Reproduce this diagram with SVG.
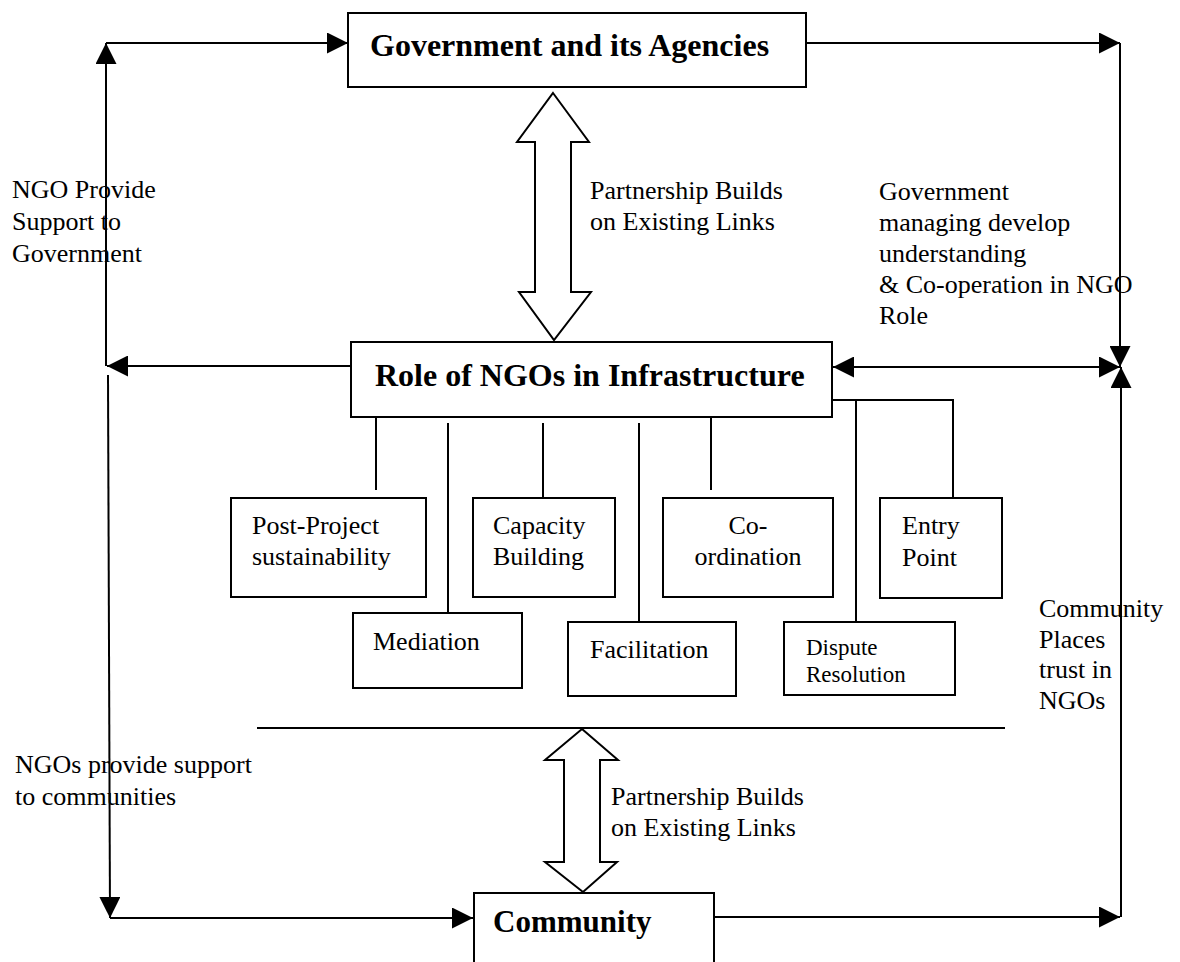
<svg xmlns="http://www.w3.org/2000/svg" width="1180" height="962" viewBox="0 0 1180 962">
<style>
.box{fill:#fff;stroke:#000;stroke-width:2}
.ln{fill:none;stroke:#000;stroke-width:2}
.hollow{fill:#fff;stroke:#000;stroke-width:2;stroke-linejoin:miter}
.t{font-family:"Liberation Serif","Times New Roman",serif;font-size:26px;fill:#000}
.ts{font-family:"Liberation Serif","Times New Roman",serif;font-size:23px;fill:#000}
.tb{font-family:"Liberation Serif","Times New Roman",serif;font-size:32px;font-weight:bold;fill:#000}
</style>
<defs>
<marker id="ah" markerUnits="userSpaceOnUse" markerWidth="21" markerHeight="21" viewBox="0 0 21 21" refX="21" refY="10.5" orient="auto-start-reverse">
<path d="M0,0 L21,10.5 L0,21 Z" fill="#000"/>
</marker>
</defs>
<rect width="1180" height="962" fill="#fff"/>

<g id="connectors">
<path class="ln" d="M351,366 H107" marker-end="url(#ah)"/>
<path class="ln" d="M106,366 V43" marker-end="url(#ah)"/>
<path class="ln" d="M106,43 H348" marker-end="url(#ah)"/>
<path class="ln" d="M806,43 H1120" marker-end="url(#ah)"/>
<path class="ln" d="M1120,43 V367" marker-end="url(#ah)"/>
<path class="ln" d="M1121,917 V367" marker-end="url(#ah)"/>
<path class="ln" d="M833,367 H1120" marker-start="url(#ah)" marker-end="url(#ah)"/>
<path class="ln" d="M714,917 H1120" marker-end="url(#ah)"/>
<path class="ln" d="M108,375 L110,918" marker-end="url(#ah)"/>
<path class="ln" d="M110,918 H473" marker-end="url(#ah)"/>
<path class="ln" d="M376,417 V490"/>
<path class="ln" d="M448,423 V622"/>
<path class="ln" d="M543,423 V498"/>
<path class="ln" d="M639,423 V622"/>
<path class="ln" d="M711,417 V490"/>
<path class="ln" d="M832,400 H953 V498"/>
<path class="ln" d="M856,400 V622"/>
<path class="ln" d="M257,728 H1005"/>
<polygon class="hollow" points="553,93 589,142 571,142 571,292 591,292 554,340 519,292 535,292 535,142 517,142"/>
<polygon class="hollow" points="582,729 618,760 600,760 600,862 617,862 583,892 545,862 564,862 564,760 545,760"/>
</g>

<g id="government">
<rect class="box" x="348" y="13" width="458" height="74"/>
<text class="tb" x="370" y="56">Government and its Agencies</text>
</g>

<g id="role">
<rect class="box" x="351" y="342" width="481" height="75"/>
<text class="tb" x="375" y="386">Role of NGOs in Infrastructure</text>
</g>

<g id="community">
<rect class="box" x="474" y="893" width="240" height="90"/>
<text class="tb" x="493" y="932" style="font-size:31px">Community</text>
</g>

<g id="post-project">
<rect class="box" x="231" y="498" width="195" height="99"/>
<text class="t" x="252" y="534">Post-Project</text>
<text class="t" x="252" y="565">sustainability</text>
</g>

<g id="capacity">
<rect class="box" x="473" y="498" width="142" height="99"/>
<text class="t" x="493" y="534">Capacity</text>
<text class="t" x="493" y="565">Building</text>
</g>

<g id="coordination">
<rect class="box" x="663" y="498" width="170" height="99"/>
<text class="t" x="748" y="534" text-anchor="middle">Co-</text>
<text class="t" x="748" y="565" text-anchor="middle">ordination</text>
</g>

<g id="entry-point">
<rect class="box" x="880" y="498" width="122" height="100"/>
<text class="t" x="902" y="534">Entry</text>
<text class="t" x="902" y="566">Point</text>
</g>

<g id="mediation">
<rect class="box" x="353" y="613" width="169" height="75"/>
<text class="t" x="373" y="650">Mediation</text>
</g>

<g id="facilitation">
<rect class="box" x="568" y="622" width="168" height="74"/>
<text class="t" x="590" y="658">Facilitation</text>
</g>

<g id="dispute">
<rect class="box" x="784" y="622" width="171" height="73"/>
<text class="ts" x="806" y="655">Dispute</text>
<text class="ts" x="806" y="682">Resolution</text>
</g>

<g id="labels">
<text class="t" x="12" y="198">NGO Provide</text>
<text class="t" x="12" y="230">Support to</text>
<text class="t" x="12" y="262">Government</text>
<text class="t" x="590" y="199">Partnership Builds</text>
<text class="t" x="590" y="230">on Existing Links</text>
<text class="t" x="879" y="200">Government</text>
<text class="t" x="879" y="231">managing develop</text>
<text class="t" x="879" y="262">understanding</text>
<text class="t" x="879" y="293">&amp; Co-operation in NGO</text>
<text class="t" x="879" y="324">Role</text>
<text class="t" x="1039" y="617">Community</text>
<text class="t" x="1039" y="648">Places</text>
<text class="t" x="1039" y="678">trust in</text>
<text class="t" x="1039" y="709">NGOs</text>
<text class="t" x="15" y="773">NGOs provide support</text>
<text class="t" x="15" y="805">to communities</text>
<text class="t" x="611" y="805">Partnership Builds</text>
<text class="t" x="611" y="836">on Existing Links</text>
</g>
</svg>
